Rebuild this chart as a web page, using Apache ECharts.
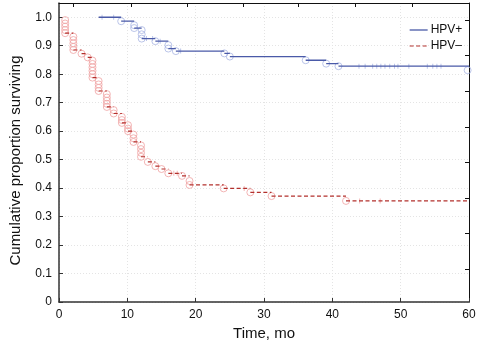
<!DOCTYPE html>
<html>
<head>
<meta charset="utf-8">
<script src="https://cdn.jsdelivr.net/npm/echarts@6/dist/echarts.min.js"></script>
<style>
  html, body { margin: 0; padding: 0; background: #fff; }
  #chart { width: 480px; height: 347px; }
</style>
</head>
<body>
<div id="chart"></div>
<script>
// tick marks on the frame's top and right edges (no labels)
const topFrameTicks = [2.15, 10.5, 18.7, 27.0, 35.05, 43.35, 51.7];
const rightFrameTicks = [0.115, 0.24, 0.365, 0.49, 0.615, 0.74, 0.865, 0.99];

// HPV+ : step levels (time where the level starts, surviving proportion)
const posStepT = [5.8, 9.1, 11.0, 12.1, 14.1, 16.0, 17.1, 24.2, 25.0, 36.1, 39.1, 40.9];
const posStepS = [1.0, 0.986, 0.962, 0.925, 0.916, 0.89, 0.881, 0.873, 0.862, 0.849, 0.837, 0.828];
// HPV+ : events (circles)
const posEventT = [9.1, 11.0, 11.0, 12.1, 12.1, 12.1, 14.1, 16.0, 16.0, 17.1, 24.2, 25.0, 36.1, 39.1, 40.9, 59.8];
const posEventS = [0.986, 0.972, 0.962, 0.955, 0.94, 0.925, 0.916, 0.902, 0.89, 0.881, 0.873, 0.862, 0.849, 0.837, 0.828, 0.814];
// HPV+ : censored (+)
const posCensT = [6.3, 8.0, 12.8, 13.7, 14.8, 17.8, 43.9, 44.8, 45.9, 46.5, 47.1, 47.7, 48.4, 49.1, 49.6, 51.2, 53.9, 54.7, 55.3, 55.9];
const posCensS = [1.0, 1.0, 0.925, 0.925, 0.916, 0.881, 0.828, 0.828, 0.828, 0.828, 0.828, 0.828, 0.828, 0.828, 0.828, 0.828, 0.828, 0.828, 0.828, 0.828];

// HPV- : step levels
const negStepT = [0.9, 2.1, 3.3, 4.2, 4.9, 5.8, 7.0, 8.0, 9.2, 10.1, 10.9, 12.0, 13.0, 14.1, 15.0, 16.0, 18.0, 19.1, 24.1, 28.0, 31.1, 42.0];
const negStepS = [0.944, 0.885, 0.872, 0.859, 0.788, 0.741, 0.685, 0.662, 0.629, 0.6, 0.562, 0.51, 0.492, 0.477, 0.467, 0.452, 0.443, 0.411, 0.399, 0.385, 0.372, 0.355];
// HPV- : events (circles)
const negEventT = [0.9, 0.9, 0.9, 0.9, 0.9, 2.1, 2.1, 2.1, 2.1, 2.1, 3.3, 4.2,
  4.9, 4.9, 4.9, 4.9, 4.9, 4.9, 5.8, 5.8, 5.8, 5.8, 7.0, 7.0, 7.0, 7.0, 7.0,
  8.0, 8.0, 9.2, 9.2, 9.2, 10.1, 10.1, 10.1, 10.9, 10.9, 10.9, 12.0, 12.0, 12.0, 12.0,
  13.0, 14.1, 15.0, 16.0, 18.0, 19.1, 19.1, 24.1, 28.0, 31.1, 42.0];
const negEventS = [0.99, 0.978, 0.967, 0.955, 0.944, 0.932, 0.92, 0.908, 0.896, 0.885, 0.872, 0.859,
  0.848, 0.836, 0.824, 0.812, 0.8, 0.788, 0.776, 0.764, 0.752, 0.741, 0.73, 0.718, 0.707, 0.696, 0.685,
  0.674, 0.662, 0.65, 0.639, 0.629, 0.621, 0.609, 0.6, 0.588, 0.575, 0.562, 0.55, 0.537, 0.524, 0.51,
  0.492, 0.477, 0.467, 0.452, 0.443, 0.425, 0.411, 0.399, 0.385, 0.372, 0.355];
// HPV- : censored (+)
const negCensT = [16.8, 17.3, 27.1, 44.0, 47.0];
const negCensS = [0.452, 0.452, 0.399, 0.355, 0.355];

const xMax = 60;
const yMax = 1.05;
const fontFamily = '"Liberation Sans", Arial, sans-serif';

// horizontal pieces of the survival curve, broken between levels
function stepSegments(ts, ss) {
  const out = [];
  ts.forEach((t, i) => {
    const end = i + 1 < ts.length ? ts[i + 1] : xMax;
    out.push([t, ss[i]], [end, ss[i]], [end, '-']);
  });
  return out;
}
const pairs = (ts, ss) => ts.map((t, i) => [t, ss[i]]);

// fine category axes used only to place the frame's top/right tick marks
const topStep = 0.05, rightStep = 0.005;
const topCats = [];
for (let i = 0; i <= Math.round(xMax / topStep); i++) topCats.push(String(i));
const rightCats = [];
for (let i = 0; i <= Math.round(yMax / rightStep); i++) rightCats.push(String(i));
const topTickIdx = new Set(topFrameTicks.map((v) => Math.round(v / topStep)));
const rightTickIdx = new Set(rightFrameTicks.map((v) => Math.round(v / rightStep)));

const chart = echarts.init(document.getElementById('chart'), null, { renderer: 'canvas' });

const blue = '#4a5aa8', blueLight = '#aab6e4';
const red = '#b3302c', redLight = '#f0a4a4';
const redDash = [4, 2.5];

chart.setOption({
  animation: false,
  backgroundColor: '#fff',
  textStyle: { fontFamily },
  grid: { left: 51, right: 11, top: 3, bottom: 45, containLabel: false },
  legend: {
    orient: 'vertical',
    left: 404,
    top: 19,
    itemWidth: 18,
    itemHeight: 10,
    itemGap: 4,
    itemStyle: { opacity: 0 },
    textStyle: { fontFamily, fontSize: 12, color: '#111', padding: [0, 0, 0, -2] },
    data: [
      { name: 'HPV+', lineStyle: { color: blue, width: 1.3, type: 'solid' } },
      { name: 'HPV\u2013', lineStyle: { color: red, width: 1.2, type: redDash } },
    ],
  },
  xAxis: [
    {
      type: 'value', min: 0, max: xMax, interval: 10,
      name: 'Time, mo', nameLocation: 'middle', nameGap: 20,
      nameTextStyle: { fontFamily, fontSize: 15, color: '#111' },
      axisLine: { lineStyle: { color: '#333', width: 1.5 } },
      axisTick: { inside: true, length: 4, lineStyle: { color: '#333' } },
      axisLabel: { fontFamily, fontSize: 12, color: '#111', margin: 7 },
      splitLine: { show: true, lineStyle: { color: '#e4e4e4', type: [1, 2] } },
    },
    {
      type: 'category', data: topCats, boundaryGap: false, position: 'top',
      axisLine: { show: true, lineStyle: { color: '#111', width: 1 } },
      axisTick: { show: true, inside: true, length: 4, interval: (idx) => topTickIdx.has(idx), lineStyle: { color: '#111' } },
      axisLabel: { show: false },
      splitLine: { show: false },
    },
  ],
  yAxis: [
    {
      type: 'value', min: 0, max: yMax, interval: 0.1,
      name: 'Cumulative proportion surviving', nameLocation: 'middle', nameGap: 36,
      nameTextStyle: { fontFamily, fontSize: 15, color: '#111', padding: [0, 16, 0, 0] },
      axisLine: { show: true, lineStyle: { color: '#333', width: 1.5 } },
      axisTick: { show: true, inside: true, length: 4, lineStyle: { color: '#333' } },
      axisLabel: {
        fontFamily, fontSize: 12, color: '#111', margin: 7, showMaxLabel: false,
        formatter: (v) => (v === 0 ? '0' : v.toFixed(1)),
      },
      splitLine: { show: true, lineStyle: { color: '#e4e4e4', type: [1, 2] } },
    },
    {
      type: 'category', data: rightCats, boundaryGap: false, position: 'right',
      axisLine: { show: true, lineStyle: { color: '#111', width: 1 } },
      axisTick: { show: true, inside: true, length: 4, interval: (idx) => rightTickIdx.has(idx), lineStyle: { color: '#111' } },
      axisLabel: { show: false },
      splitLine: { show: false },
    },
  ],
  series: [
    {
      name: 'HPV+', type: 'line', data: stepSegments(posStepT, posStepS),
      symbol: 'none', connectNulls: false,
      lineStyle: { color: blue, width: 1.3 }, itemStyle: { color: blue }, z: 3,
    },
    {
      name: 'HPV\u2013', type: 'line', data: stepSegments(negStepT, negStepS),
      symbol: 'none', connectNulls: false,
      lineStyle: { color: red, width: 1.2, type: redDash }, itemStyle: { color: red }, z: 3,
    },
    {
      name: 'HPV+', type: 'scatter', data: pairs(posEventT, posEventS),
      symbol: 'circle', symbolSize: 7,
      itemStyle: { color: 'rgba(0,0,0,0)', borderColor: blueLight, borderWidth: 1 }, z: 2,
    },
    {
      name: 'HPV+', type: 'scatter', data: pairs(posCensT, posCensS),
      symbol: 'rect', symbolSize: [1, 5], itemStyle: { color: blueLight }, z: 2,
    },
    {
      name: 'HPV\u2013', type: 'scatter', data: pairs(negEventT, negEventS),
      symbol: 'circle', symbolSize: 7,
      itemStyle: { color: 'rgba(0,0,0,0)', borderColor: redLight, borderWidth: 1 }, z: 2,
    },
    {
      name: 'HPV\u2013', type: 'scatter', data: pairs(negCensT, negCensS),
      symbol: 'rect', symbolSize: [1, 5], itemStyle: { color: redLight }, z: 2,
    },
  ],
});
</script>
</body>
</html>
